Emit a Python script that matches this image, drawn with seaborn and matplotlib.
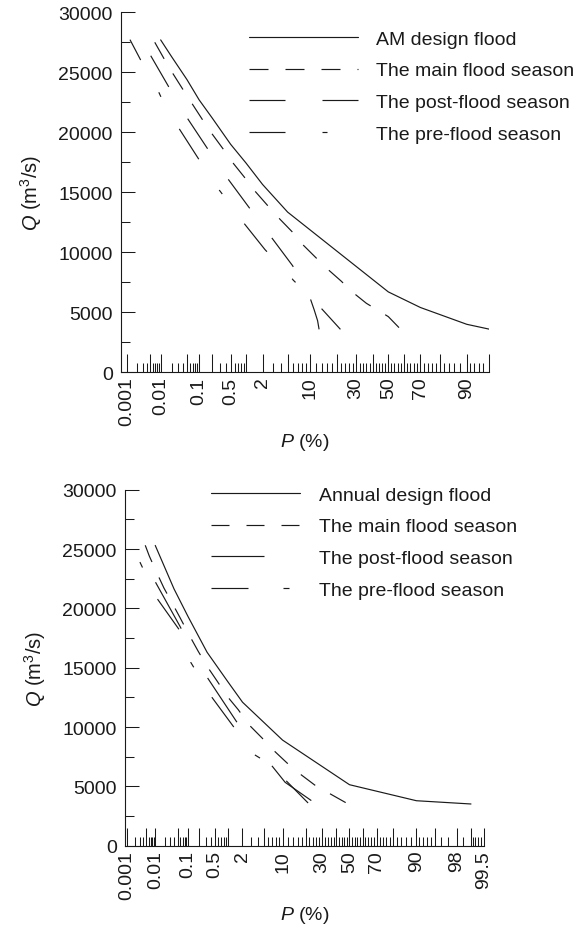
import numpy as np
import pandas as pd
import matplotlib
matplotlib.use("Agg")
import matplotlib.pyplot as plt
import seaborn as sns
from statistics import NormalDist
from matplotlib.lines import Line2D

# ---------------- data: exceedance probability P (%) and discharge Q (m3/s)
# upper panel
am_p_top = [0.01, 0.02, 0.05, 0.1, 0.2, 0.5, 1, 2, 5, 50, 70, 90, 95]
am_q_top = [27700, 26300, 24400, 22700, 21200, 19000, 17450, 15650, 13350, 6700, 5400, 4000, 3600]
main_p_top = [0.0068, 0.0126, 0.022, 0.04, 0.07, 0.12, 0.2, 0.35, 0.57, 0.96, 1.5, 2.5,
              3.8, 5.9, 8.2, 11.5, 16, 22, 28, 36, 50, 58]
main_q_top = [27500, 26100, 24860, 23550, 22300, 21050, 19860, 18600, 17400, 16200, 15050, 13830,
              12780, 11670, 10610, 9640, 8610, 7610, 6670, 5750, 4640, 3580]
post_p_top = [0.0052, 0.017, 0.051, 0.155, 0.43, 1.14, 2.73, 5.9, 9.7, 11.3, 12.4, 12.9]
post_q_top = [26380, 23750, 21190, 18670, 16170, 13750, 11330, 8880, 6500, 5200, 4300, 3580]
pre_p_top = [0.00122, 0.0026, 0.0086, 0.01, 0.03, 0.095, 0.265, 0.313, 0.87, 2.2, 5.4, 6.0, 12.1, 21.7]
pre_q_top = [27720, 26030, 23420, 23000, 20420, 17830, 15360, 15000, 12550, 10220, 8050, 7690, 5750, 3580]

# lower panel
am_p_bot = [0.01, 0.039, 0.1, 0.32, 1, 2.03, 10, 50, 90, 99]
am_q_bot = [25300, 21640, 19300, 16300, 13800, 12090, 8900, 5140, 3790, 3515]
main_p_bot = [0.0046, 0.0063, 0.011, 0.019, 0.0353, 0.058, 0.107, 0.188, 0.32, 0.566, 0.96, 1.66,
              2.74, 4.7, 7.4, 11.6, 17.2, 25.8, 35.7, 47.6]
main_q_bot = [25315, 24420, 23050, 21720, 20380, 19250, 17760, 16390, 15120, 13860, 12590, 11460,
              10170, 9080, 8010, 6970, 6045, 5060, 4360, 3600]
post_p_bot = [0.0102, 0.057, 0.32, 1.56, 10.9, 25.3]
post_q_bot = [22200, 18550, 14200, 10400, 5340, 3600]
pre_p_bot = [0.003, 0.0117, 0.061, 0.118, 0.42, 1.3, 3.5, 6.3, 21.4]
pre_q_bot = [23900, 20800, 18040, 15460, 12510, 10065, 7650, 6890, 3600]

labels_top = ["AM design flood", "The main flood season",
              "The post-flood season", "The pre-flood season"]
labels_bot = ["Annual design flood", "The main flood season",
              "The post-flood season", "The pre-flood season"]

# probability-paper ticks
major_ticks = [0.001, 0.005, 0.01, 0.05, 0.1, 0.2, 0.5, 1, 2, 5, 10, 20, 30, 40, 50,
               60, 70, 80, 90, 95, 98, 99, 99.5]
minor_ticks = ([0.002, 0.003, 0.004, 0.006, 0.007, 0.008, 0.009,
                0.02, 0.03, 0.04, 0.06, 0.07, 0.08, 0.09,
                0.3, 0.4, 0.6, 0.7, 0.8, 0.9, 3, 4, 6, 7, 8, 9]
               + [v for v in range(12, 90, 2) if v % 10 != 0]
               + [91, 92, 93, 94, 96, 97, 98.5, 99.1, 99.2, 99.3, 99.4])
labelled_top = ["0.001", "0.01", "0.1", "0.5", "2", "10", "30", "50", "70", "90"]
labelled_bot = labelled_top + ["98", "99.5"]

# ---------------- style
sns.set_theme(style="ticks")
plt.rcParams["font.family"] = ["Liberation Sans", "DejaVu Sans"]
plt.rcParams["mathtext.fontset"] = "custom"
plt.rcParams["mathtext.rm"] = "Liberation Sans"
plt.rcParams["mathtext.it"] = "Liberation Sans:italic"
plt.rcParams["lines.scale_dashes"] = False
INK = "#1a1a1a"
FS = 14
LW = 0.85

_nd = NormalDist()


def prob_forward(p):
    p = np.asarray(p, dtype=float)
    flat = p.ravel()
    out = np.empty_like(flat)
    for i, v in enumerate(flat):
        if not np.isfinite(v):
            out[i] = np.nan
        else:
            out[i] = _nd.inv_cdf(min(max(v / 100.0, 1e-12), 1 - 1e-12))
    return out.reshape(p.shape)


def prob_inverse(z):
    z = np.asarray(z, dtype=float)
    flat = z.ravel()
    out = np.array([_nd.cdf(v) * 100.0 if np.isfinite(v) else np.nan for v in flat])
    return out.reshape(z.shape)


PX = 72 / 100  # points per pixel at dpi 100
styles_top = {
    labels_top[0]: (0, ()),
    labels_top[1]: (0, (19 * PX, 17 * PX)),
    labels_top[2]: (0, (36 * PX, 37 * PX)),
    labels_top[3]: (0, (36 * PX, 37 * PX, 5 * PX, 37 * PX)),
}
styles_bot = {
    labels_bot[0]: (0, ()),
    labels_bot[1]: (0, (18 * PX, 17 * PX)),
    labels_bot[2]: (0, (53 * PX, 56 * PX)),
    labels_bot[3]: (0, (37 * PX, 35 * PX, 6 * PX, 35 * PX)),
}
offsets_top = {labels_top[3]: 13 * PX}
offsets_bot = {labels_bot[3]: 72 * PX}


def major_ticks_in(xlim):
    return [v for v in major_ticks if xlim[0] * 0.999 <= v <= xlim[1] * 1.0001]


def draw_panel(ax, series, styles, offsets, xlim, xlabels, leg_anchor, handle_len):
    frames = []
    for name, (p, q) in series.items():
        frames.append(pd.DataFrame({"P": p, "Q": q, "series": name}))
    df = pd.concat(frames, ignore_index=True)
    for name in series:
        sub = df[df["series"] == name]
        sns.lineplot(data=sub, x="P", y="Q", ax=ax, color=INK, lw=LW,
                     sort=False, estimator=None, legend=False)
        line = ax.lines[-1]
        off, seq = styles[name]
        if seq:
            line.set_linestyle((offsets.get(name, 0), seq))
    ax.set_xscale("function", functions=(prob_forward, prob_inverse))
    ax.set_xlim(*xlim)
    ax.set_ylim(0, 30000)

    majors = major_ticks_in(xlim)
    ax.set_xticks(majors)
    ax.set_xticklabels([(f"{v:g}" if f"{v:g}" in xlabels else "") for v in majors],
                       rotation=90, fontsize=FS, color=INK)
    ax.set_xticks([v for v in minor_ticks if xlim[0] < v < xlim[1]], minor=True)
    ax.xaxis.set_minor_formatter(matplotlib.ticker.NullFormatter())
    ax.tick_params(axis="x", which="major", direction="in", length=13, width=0.75,
                   pad=3, color=INK)
    ax.tick_params(axis="x", which="minor", direction="in", length=6.5, width=0.75, color=INK)

    ax.set_yticks(np.arange(0, 30001, 5000))
    ax.set_yticks(np.arange(2500, 30000, 5000), minor=True)
    ax.tick_params(axis="y", which="major", direction="in", length=10, width=0.75,
                   pad=6, labelsize=FS, colors=INK)
    ax.tick_params(axis="y", which="minor", direction="in", length=6.5, width=0.75, color=INK)

    sns.despine(ax=ax)
    for s in ("left", "bottom"):
        ax.spines[s].set_linewidth(0.8)
        ax.spines[s].set_color(INK)
    ax.set_xlabel(r"$\it{P}$ (%)", fontsize=FS, color=INK, labelpad=4)
    ax.set_ylabel(r"$\it{Q}$ (m$^{3}$/s)", fontsize=FS + 0.5, color=INK, labelpad=10)

    handles = []
    for name in series:
        off, seq = styles[name]
        ls = (0, seq) if seq else "-"
        handles.append(Line2D([], [], color=INK, lw=LW, linestyle=ls))
    ax.legend(handles, list(series.keys()), loc="upper left", frameon=False,
              bbox_to_anchor=leg_anchor, bbox_transform=ax.figure.transFigure,
              fontsize=FS, handlelength=handle_len, handletextpad=0.95,
              labelspacing=0.73, borderpad=0, borderaxespad=0,
              labelcolor=INK)


W, H = 578, 928
fig = plt.figure(figsize=(W / 100, H / 100), dpi=100)
ax_top = fig.add_axes([121 / W, 1 - 373.3 / H, (489 - 121) / W, 360 / H])
ax_bot = fig.add_axes([125 / W, 1 - 846.7 / H, (484 - 125) / W, 356 / H])

draw_panel(ax_top,
           {labels_top[0]: (am_p_top, am_q_top),
            labels_top[1]: (main_p_top, main_q_top),
            labels_top[2]: (post_p_top, post_q_top),
            labels_top[3]: (pre_p_top, pre_q_top)},
           styles_top, offsets_top, (0.00063, 95), labelled_top,
           (249 / W, 1 - 31 / H), 5.6)
draw_panel(ax_bot,
           {labels_bot[0]: (am_p_bot, am_q_bot),
            labels_bot[1]: (main_p_bot, main_q_bot),
            labels_bot[2]: (post_p_bot, post_q_bot),
            labels_bot[3]: (pre_p_bot, pre_q_bot)},
           styles_bot, offsets_bot, (0.00086, 99.5), labelled_bot,
           (211 / W, 1 - 487 / H), 4.58)

fig.savefig("out.png", dpi=100)
